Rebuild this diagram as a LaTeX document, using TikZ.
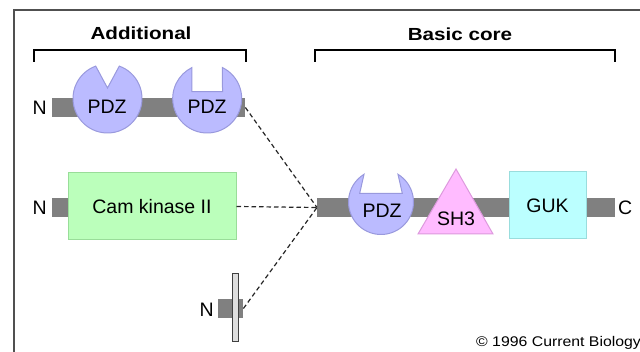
\documentclass[tikz,border=0pt]{standalone}
\usepackage{fontspec}
\setmainfont{Liberation Sans}
\newfontfamily\headfont[FakeStretch=1.18]{Liberation Sans Bold}
\newfontfamily\notefont[FakeStretch=1.13]{Liberation Sans}

\definecolor{barcol}{HTML}{808080}
\definecolor{pdzfill}{HTML}{BBBBFF}
\definecolor{pdzline}{HTML}{9999DD}
\definecolor{shfill}{HTML}{FFBBFF}
\definecolor{shline}{HTML}{DD99DD}
\definecolor{gukfill}{HTML}{BBFFFF}
\definecolor{gukline}{HTML}{99DDDD}
\definecolor{camfill}{HTML}{BBFFBB}
\definecolor{camline}{HTML}{99DD99}
\definecolor{framecol}{HTML}{505050}

\begin{document}
\begin{tikzpicture}[x=1pt,y=1pt]
		\tikzstyle{every node}+=[inner sep=0pt, font=\fontsize{19.5}{22}\selectfont]
		\tikzstyle{bar}=[fill=barcol, draw=none, minimum height=19pt]
		\tikzstyle{pdz}=[fill=pdzfill, draw=pdzline, line width=1pt]
		\tikzstyle{link}=[draw=black!85, line width=1.2pt, dash pattern=on 4.5pt off 3pt]
		\tikzstyle{brace}=[draw=black, line width=1.2pt]
		\useasboundingbox (0,0) rectangle (640,-352);
		% frame
		\draw [framecol, line width=2pt] (14,-352) -- (14,-10) -- (640,-10);
		% headings
		\draw (141,-33) node (addtitle) {\headfont\fontsize{17.5}{20}\selectfont Additional};
		\draw [brace] (34,-62) -- (34,-50) -- (246,-50) -- (246,-62);
		\draw (460,-34) node (coretitle) {\headfont\fontsize{17.5}{20}\selectfont Basic core};
		\draw [brace] (315,-62) -- (315,-50) -- (615,-50) -- (615,-62);
		% additional: two PDZ
		\node [bar, minimum width=193pt, anchor=west] (barA) at (52,-107.5) {};
		\node [anchor=east] (nA) at (47,-108) {N};
		\draw [pdz] (107.5,-98.5) ++(70:34.5) arc [start angle=70, end angle=-250, radius=34.5] -- (107.5,-88) -- cycle;
		\node (pdzA) at (107,-107) {PDZ};
		\draw [pdz] (207.2,-98.5) ++(63.7:34.5) arc [start angle=63.7, end angle=-243.7, radius=34.5] -- (191.9,-91.7) -- (222.5,-91.7) -- cycle;
		\node (pdzB) at (207,-107) {PDZ};
		% additional: Cam kinase II
		\node [bar, minimum width=17pt, anchor=west] (barB) at (52,-207.5) {};
		\node [anchor=east] (nB) at (47,-208) {N};
		\node [fill=camfill, draw=camline, line width=1pt, minimum width=168pt, minimum height=67pt] (camk) at (152,-206.5) {Cam kinase II};
		% additional: membrane anchor
		\node [bar, minimum width=25pt, anchor=west] (barC) at (218,-308.5) {};
		\node [fill=black!13, draw=black!75, line width=1pt, minimum width=6pt, minimum height=68pt] (memb) at (235,-308) {};
		\node [anchor=east] (nC) at (214,-310) {N};
		% basic core
		\node [bar, minimum width=298pt, anchor=west] (core) at (317,-207.5) {};
		\node [anchor=west] (cterm) at (618,-208) {C};
		\draw [pdz] (381,-202) ++(58.5:32.5) arc [start angle=58.5, end angle=-238.5, radius=32.5] -- (359.7,-193.3) -- (402.3,-193.3) -- cycle;
		\node (pdzC) at (382,-211) {PDZ};
		\draw [fill=shfill, draw=shline, line width=1pt] (418,-234) -- (456,-169) -- (493,-234) -- cycle;
		\node (sh3) at (456,-219) {SH3};
		\node [fill=gukfill, draw=gukline, line width=1pt, minimum width=77pt, minimum height=67pt] (guk) at (547.5,-205.5) {GUK};
		% dashed links
		\draw [link] (barA.east) -- (core.west);
		\draw [link] (camk.east) -- (core.west);
		\draw [link] (barC.east) -- (core.west);
		\node [anchor=base west] (note) at (476,-346.5) {\notefont\fontsize{14}{16}\selectfont \textcopyright{} 1996 Current Biology};
	\end{tikzpicture}
\end{document}
